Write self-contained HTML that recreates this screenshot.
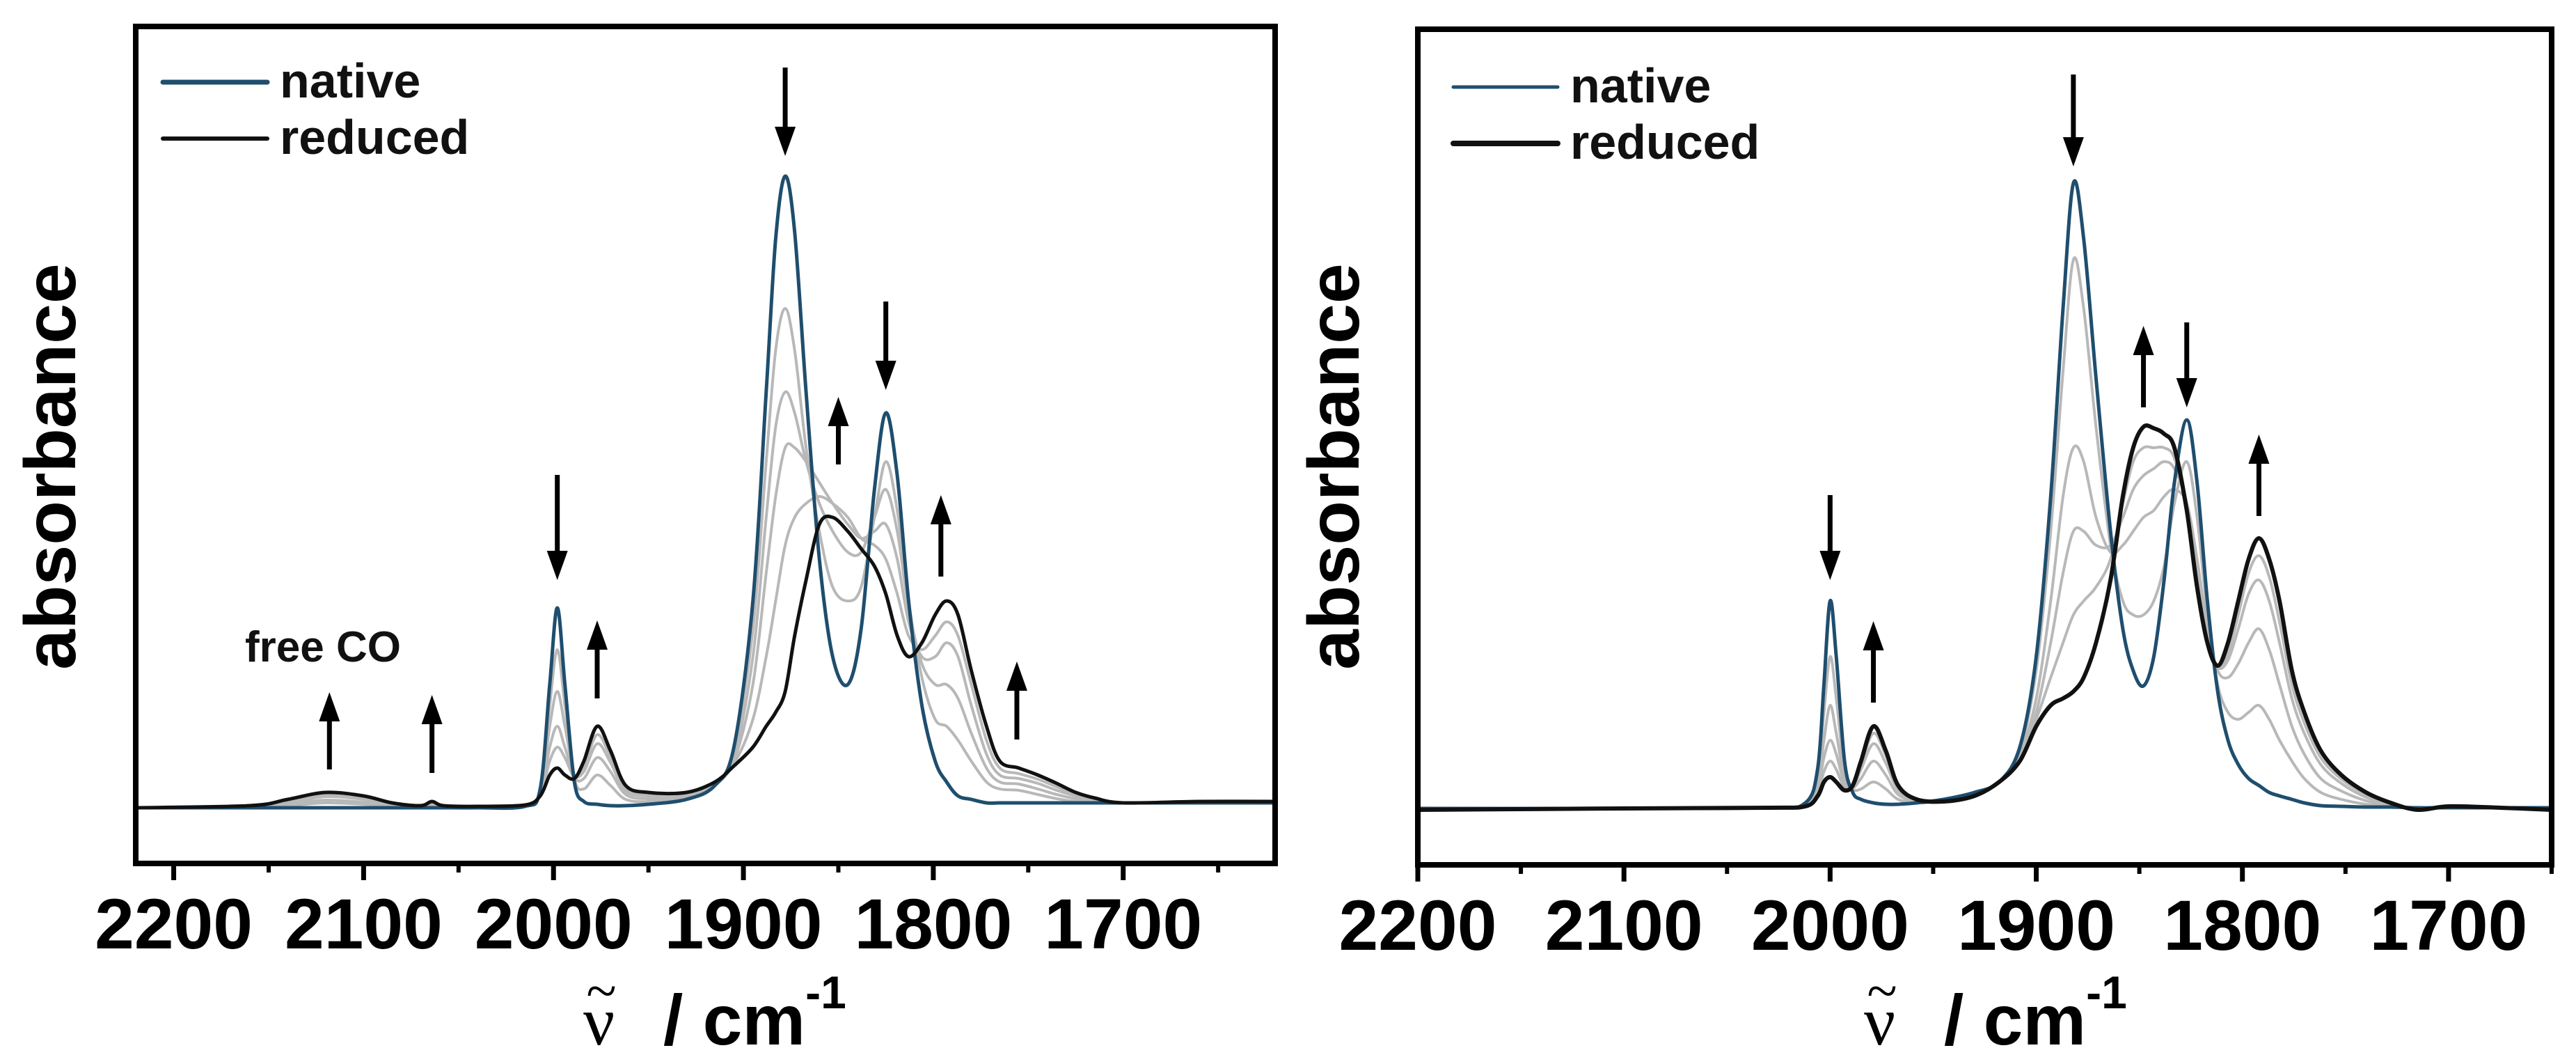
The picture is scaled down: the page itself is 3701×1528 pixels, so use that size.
<!DOCTYPE html>
<html><head><meta charset="utf-8"><style>
html,body{margin:0;padding:0;background:#fff;}
svg{display:block;font-family:"Liberation Sans",Arial,sans-serif;}
</style></head><body>
<svg id="fig" width="3701" height="1528" viewBox="0 0 3701 1528" xmlns="http://www.w3.org/2000/svg">
<rect width="3701" height="1528" fill="#fff"/>
<g id="plots"></g>
</svg>
<script>
// ---------- LEFT PANEL DATA ----------
const leftWavenumbers = [2220,2160,2140,2120,2100,2085,2070,2064,2058,2040,2015,2007,2002,1998,1994,1989,1984,1977,1970,1962,1950,1930,1915,1905,1895,1888,1883,1878,1873,1867,1860,1853,1845,1838,1831,1825,1819,1813,1806,1799,1793,1787,1780,1772,1765,1755,1745,1735,1725,1715,1700,1660,1620];
const leftNative = [0.003,0.003,0.003,0.003,0.003,0.003,0.003,0.003,0.003,0.003,0.005,0.03,0.18,0.29,0.18,0.04,0.012,0.008,0.006,0.006,0.008,0.015,0.035,0.09,0.3,0.6,0.82,0.91,0.83,0.6,0.36,0.22,0.18,0.26,0.46,0.57,0.48,0.3,0.15,0.07,0.04,0.02,0.015,0.01,0.01,0.01,0.01,0.01,0.01,0.01,0.01,0.01,0.01];
const leftReduced = [0.003,0.006,0.015,0.025,0.02,0.01,0.006,0.012,0.006,0.005,0.007,0.02,0.05,0.06,0.05,0.045,0.07,0.12,0.085,0.035,0.025,0.025,0.04,0.063,0.09,0.12,0.14,0.17,0.25,0.33,0.41,0.42,0.40,0.375,0.35,0.31,0.25,0.22,0.24,0.28,0.30,0.28,0.2,0.12,0.07,0.06,0.05,0.038,0.025,0.017,0.01,0.012,0.012];
const leftGray1 = [0.003,0.004,0.006,0.01,0.008,0.005,0.004,0.005,0.004,0.004,0.006,0.028,0.15,0.23,0.15,0.045,0.03,0.05,0.035,0.015,0.012,0.018,0.035,0.085,0.26,0.5,0.66,0.72,0.66,0.52,0.4,0.32,0.3,0.32,0.42,0.5,0.43,0.3,0.19,0.13,0.12,0.1,0.07,0.04,0.03,0.028,0.022,0.016,0.012,0.01,0.01,0.01,0.01];
const leftGray2 = [0.003,0.005,0.009,0.014,0.011,0.007,0.005,0.008,0.005,0.004,0.006,0.025,0.12,0.17,0.12,0.05,0.045,0.075,0.055,0.022,0.016,0.02,0.037,0.075,0.22,0.42,0.55,0.6,0.57,0.5,0.44,0.4,0.37,0.37,0.42,0.46,0.4,0.29,0.21,0.18,0.18,0.16,0.11,0.06,0.04,0.037,0.03,0.022,0.016,0.012,0.01,0.01,0.01];
const leftGray3 = [0.003,0.005,0.011,0.019,0.015,0.008,0.005,0.01,0.005,0.004,0.006,0.022,0.09,0.12,0.09,0.05,0.055,0.095,0.068,0.027,0.02,0.022,0.038,0.07,0.18,0.34,0.45,0.52,0.52,0.5,0.47,0.44,0.41,0.39,0.4,0.41,0.36,0.27,0.22,0.22,0.24,0.22,0.15,0.08,0.05,0.045,0.038,0.028,0.02,0.014,0.01,0.011,0.011];
const leftGray4 = [0.003,0.006,0.013,0.022,0.018,0.009,0.006,0.011,0.006,0.005,0.007,0.021,0.07,0.09,0.075,0.048,0.062,0.108,0.076,0.031,0.022,0.023,0.039,0.066,0.13,0.22,0.3,0.38,0.42,0.44,0.45,0.44,0.42,0.39,0.38,0.36,0.31,0.25,0.23,0.25,0.27,0.25,0.18,0.1,0.06,0.052,0.044,0.033,0.022,0.015,0.01,0.012,0.012];
const leftTicks = ["2200","2100","2000","1900","1800","1700"];
const leftTickValues = [2200,2100,2000,1900,1800,1700];
const leftMinorValues = [2150,2050,1950,1850,1750,1650];

// ---------- RIGHT PANEL DATA ----------
const rightWavenumbers = [2200,2100,2030,2012,2006,2003,2000,1997,1993,1989,1985,1979,1973,1967,1958,1945,1930,1918,1908,1900,1893,1887,1882,1877,1871,1864,1858,1853,1848,1843,1838,1833,1827,1822,1817,1812,1807,1802,1797,1792,1787,1782,1776,1770,1762,1752,1740,1728,1715,1700,1675,1650];
const rightNative = [0.002,0.002,0.003,0.01,0.06,0.18,0.3,0.22,0.07,0.025,0.015,0.01,0.008,0.008,0.01,0.015,0.025,0.04,0.09,0.22,0.45,0.72,0.9,0.82,0.62,0.4,0.26,0.2,0.178,0.22,0.33,0.47,0.56,0.47,0.3,0.17,0.1,0.065,0.045,0.035,0.025,0.02,0.015,0.01,0.006,0.005,0.004,0.004,0.003,0.003,0.003,0.003];
const rightReduced = [0.0,0.002,0.003,0.005,0.02,0.04,0.047,0.04,0.028,0.035,0.07,0.12,0.085,0.035,0.015,0.012,0.02,0.04,0.07,0.12,0.15,0.16,0.17,0.19,0.24,0.33,0.45,0.52,0.55,0.548,0.54,0.52,0.43,0.32,0.24,0.207,0.24,0.3,0.36,0.39,0.36,0.3,0.2,0.14,0.085,0.05,0.025,0.01,0.0,0.005,0.003,0.0];
const rightGray1 = [0.001,0.002,0.003,0.009,0.05,0.14,0.22,0.16,0.055,0.03,0.03,0.04,0.03,0.015,0.01,0.013,0.023,0.04,0.085,0.2,0.4,0.63,0.79,0.72,0.55,0.38,0.3,0.28,0.28,0.3,0.35,0.44,0.5,0.42,0.28,0.18,0.14,0.13,0.14,0.15,0.13,0.1,0.07,0.045,0.025,0.015,0.008,0.005,0.003,0.003,0.003,0.003];
const rightGray2 = [0.001,0.002,0.003,0.008,0.04,0.1,0.15,0.11,0.045,0.032,0.045,0.07,0.05,0.022,0.012,0.012,0.022,0.04,0.08,0.16,0.3,0.45,0.52,0.5,0.42,0.37,0.38,0.4,0.42,0.43,0.45,0.46,0.44,0.36,0.26,0.2,0.19,0.21,0.24,0.26,0.23,0.18,0.12,0.08,0.045,0.027,0.013,0.006,0.003,0.003,0.003,0.002];
const rightGray3 = [0.001,0.002,0.003,0.007,0.032,0.075,0.1,0.08,0.038,0.033,0.058,0.095,0.067,0.028,0.013,0.012,0.021,0.04,0.075,0.14,0.24,0.34,0.4,0.4,0.38,0.38,0.42,0.46,0.48,0.49,0.5,0.49,0.44,0.34,0.25,0.205,0.215,0.26,0.31,0.33,0.3,0.24,0.16,0.11,0.065,0.038,0.018,0.008,0.002,0.004,0.003,0.001];
const rightGray4 = [0.001,0.002,0.003,0.006,0.025,0.055,0.07,0.058,0.032,0.034,0.065,0.11,0.078,0.032,0.014,0.012,0.02,0.04,0.072,0.13,0.19,0.24,0.28,0.3,0.32,0.36,0.44,0.5,0.52,0.52,0.52,0.505,0.435,0.33,0.245,0.205,0.225,0.28,0.34,0.365,0.335,0.27,0.18,0.125,0.075,0.044,0.022,0.009,0.001,0.005,0.003,0.0];
const rightTicks = ["2200","2100","2000","1900","1800","1700"];
const rightTickValues = [2200,2100,2000,1900,1800,1700];
const rightMinorValues = [2150,2050,1950,1850,1750,1650];

const NS = "http://www.w3.org/2000/svg";
const root = document.getElementById('plots');
function mk(tag, attrs, parent){ const e=document.createElementNS(NS,tag); for(const k in attrs) e.setAttribute(k,attrs[k]); (parent||root).appendChild(e); return e; }

function smoothPath(pts){
  let d = 'M'+pts[0][0].toFixed(1)+','+pts[0][1].toFixed(1);
  for(let i=0;i<pts.length-1;i++){
    const p0=pts[Math.max(0,i-1)], p1=pts[i], p2=pts[i+1], p3=pts[Math.min(pts.length-1,i+2)];
    const t=1/6;
    let c1y=p1[1]+(p2[1]-p0[1])*t, c2y=p2[1]-(p3[1]-p1[1])*t;
    const lo=Math.min(p1[1],p2[1]), hi=Math.max(p1[1],p2[1]);
    const c1x=p1[0]+(p2[0]-p0[0])*t, c2x=p2[0]-(p3[0]-p1[0])*t;
    d+=' C'+c1x.toFixed(1)+','+c1y.toFixed(1)+' '+c2x.toFixed(1)+','+c2y.toFixed(1)+' '+p2[0].toFixed(1)+','+p2[1].toFixed(1);
  }
  return d;
}

function panel(cfg){
  const g = mk('g',{});
  
  
  const xs = w => cfg.x0 + (cfg.w0 - w) * (cfg.x1 - cfg.x0) / (cfg.w0 - cfg.w1);
  const ys = a => cfg.base - a * 1000;
  const pathOf = (xsArr, ysArr) => smoothPath(xsArr.map((w,i)=>[xs(w), ys(ysArr[i])]));
  const clipId = cfg.name+'-clip';
  const cp = mk('clipPath',{id:clipId},g);
  mk('rect',{x:cfg.x0,y:cfg.top,width:cfg.x1-cfg.x0,height:cfg.bottom-cfg.top},cp);
  const cg = mk('g',{'clip-path':'url(#'+clipId+')'},g);
  cfg.grays.forEach((arr,i)=>{
    const p = mk('path',{d:pathOf(cfg.wn,arr),fill:'none',stroke:'#b8b8b8','stroke-width':4,'stroke-linejoin':'round'},cg);
    
    
  });
  const pn = mk('path',{d:pathOf(cfg.wn,cfg.native),fill:'none',stroke:'#1f4e6e','stroke-width':5,'stroke-linejoin':'round'},cg);
  
  
  const pr = mk('path',{d:pathOf(cfg.wn,cfg.reduced),fill:'none',stroke:'#111','stroke-width':cfg.redW,'stroke-linejoin':'round'},cg);
  
  
  const fr = mk('rect',{x:cfg.x0,y:cfg.top,width:cfg.x1-cfg.x0,height:cfg.bottom-cfg.top,fill:'none',stroke:'#000','stroke-width':8},g);
  
  
  cfg.tickValues.forEach((v,i)=>{
    const x = xs(v);
    const t = mk('line',{x1:x,y1:cfg.bottom,x2:x,y2:cfg.bottom+24,stroke:'#000','stroke-width':7},g);
    
    
    const tx = mk('text',{x:x,y:cfg.bottom+122,'text-anchor':'middle','font-size':102,'font-weight':'bold',fill:'#000'},g);
    tx.textContent = cfg.ticks[i];
    
    
  });
  cfg.minorValues.forEach(v=>{
    const x = xs(v);
    if (x > cfg.x1+2) return;
    const t = mk('line',{x1:x,y1:cfg.bottom,x2:x,y2:cfg.bottom+13,stroke:'#000','stroke-width':6},g);
    
    
  });
  const lg = mk('g',{},g);
  
  
  mk('line',{x1:cfg.legX,y1:cfg.legY,x2:cfg.legX+150,y2:cfg.legY,stroke:'#1f4e6e','stroke-width':cfg.legNW,'stroke-linecap':'round'},lg);
  const t1 = mk('text',{x:cfg.legX+168,y:cfg.legY+22,'font-size':70,'font-weight':'bold',fill:'#111'},lg);
  t1.textContent='native';
  
  
  mk('line',{x1:cfg.legX,y1:cfg.legY+81,x2:cfg.legX+150,y2:cfg.legY+81,stroke:'#111','stroke-width':cfg.legRW,'stroke-linecap':'round'},lg);
  const t2 = mk('text',{x:cfg.legX+168,y:cfg.legY+103,'font-size':70,'font-weight':'bold',fill:'#111'},lg);
  t2.textContent='reduced';
  
  
  const yt = mk('text',{x:0,y:0,transform:'translate('+cfg.yTitleX+',670) rotate(-90)','text-anchor':'middle','font-size':104,'font-weight':'bold',fill:'#000'},g);
  yt.textContent='absorbance';
  
  
  // x title
  const xg = mk('g',{},g);
  
  
  const nu = mk('text',{x:cfg.xTitleX,y:1500,'font-family':'"Liberation Serif",serif','font-size':100,fill:'#000'},xg);
  nu.textContent='\u03BD';
  const tl = mk('text',{x:cfg.xTitleX+26,y:1450,'text-anchor':'middle','font-family':'"Liberation Serif",serif','font-size':80,fill:'#000'},xg);
  tl.textContent='~';
  const xt = mk('text',{x:cfg.xTitleX+115,y:1500,'font-size':102,'font-weight':'bold',fill:'#000'},xg);
  const s2 = mk('tspan',{},xt); s2.textContent='/ cm';
  const s3 = mk('tspan',{dy:-52,'font-size':66},xt); s3.textContent='-1';
  cfg.arrows.forEach(a=>{
    const x = xs(a[0]);
    const ag = mk('g',{},g);
    
    
    const dir = a[2]>a[1]?1:-1;
    const tipY = a[2], headBase = a[2]-dir*42;
    mk('line',{x1:x,y1:a[1],x2:x,y2:headBase,stroke:'#000','stroke-width':7},ag);
    mk('polygon',{points:(x-15)+','+headBase+' '+(x+15)+','+headBase+' '+x+','+tipY,fill:'#000'},ag);
  });
  (cfg.labels||[]).forEach(l=>{
    const t = mk('text',{x:l[0],y:l[1],'font-size':62,'font-weight':'bold',fill:'#111'},g);
    t.textContent=l[2];
    
    
  });
}

panel({name:'left-panel',x0:195,x1:1832,w0:2220,w1:1620,top:38,bottom:1240,base:1163,
  wn:leftWavenumbers,native:leftNative,reduced:leftReduced,grays:[leftGray1,leftGray2,leftGray3,leftGray4],
  ticks:leftTicks,tickValues:leftTickValues,minorValues:leftMinorValues,redW:5,
  legX:234,legY:118,legNW:7,legRW:6,yTitleX:108,xTitleX:838,
  arrows:[[1878,97,224],[1825,433,560],[1850,667,570],[1998,682,833],[1977,1003,891],[1796,828,711],[1756,1062,950],[2118,1105,994],[2064,1110,998]],
  labels:[[352,950,'free CO']]});
panel({name:'right-panel',x0:2037,x1:3666,w0:2200,w1:1650,top:42,bottom:1242,base:1163,
  wn:rightWavenumbers,native:rightNative,reduced:rightReduced,grays:[rightGray1,rightGray2,rightGray3,rightGray4],
  ticks:rightTicks,tickValues:rightTickValues,minorValues:rightMinorValues,redW:6,
  legX:2088,legY:125,legNW:5,legRW:8,yTitleX:1952,xTitleX:2678,
  arrows:[[1882,107,239],[1848,585,468],[1827,463,585],[1792,741,624],[2000,711,833],[1979,1009,892]]});
</script>
</body></html>
